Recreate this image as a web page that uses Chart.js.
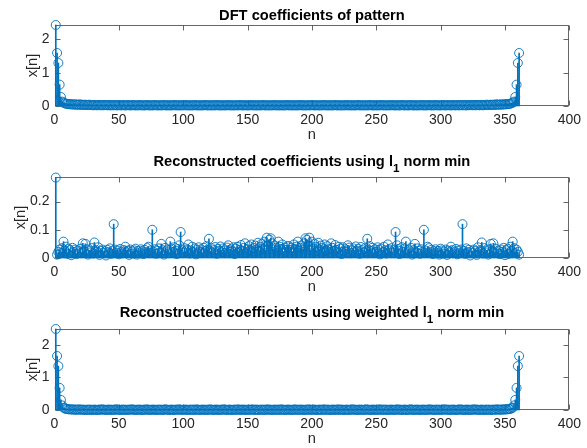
<!DOCTYPE html>
<html>
<head>
<meta charset="utf-8">
<script src="https://cdn.jsdelivr.net/npm/chart.js@4/dist/chart.umd.min.js"></script>
<style>
  html, body { margin: 0; padding: 0; background: #fff; overflow: hidden; width: 587px; height: 448px; }
  .panel { position: absolute; left: 0; width: 587px; height: 152px; }
</style>
</head>
<body>
<div class="panel" style="top:0"><canvas id="chart-dft" width="587" height="152"></canvas></div>
<div class="panel" style="top:152px"><canvas id="chart-l1" width="587" height="152"></canvas></div>
<div class="panel" style="top:304px"><canvas id="chart-wl1" width="587" height="152"></canvas></div>
<script>
// ---- data: magnitudes for n = 1..361 ----
const dftCoeffs = [
  2.43, 1.59, 1.29, 0.64, 0.27, 0.13, 0.10, 0.08, 0.07, 0.06,
  0.06, 0.05, 0.05, 0.05, 0.04, 0.05, 0.04, 0.04, 0.04, 0.05,
  0.03, 0.04, 0.03, 0.04, 0.03, 0.03, 0.04, 0.03, 0.03, 0.02,
  0.03, 0.03, 0.02, 0.03, 0.03, 0.02, 0.03, 0.02, 0.03, 0.03,
  0.02, 0.03, 0.02, 0.02, 0.03, 0.02, 0.03, 0.02, 0.02, 0.03,
  0.02, 0.02, 0.03, 0.02, 0.02, 0.02, 0.03, 0.02, 0.02, 0.02,
  0.03, 0.02, 0.02, 0.02, 0.02, 0.03, 0.02, 0.02, 0.02, 0.02,
  0.02, 0.03, 0.02, 0.02, 0.02, 0.02, 0.02, 0.03, 0.02, 0.02,
  0.02, 0.02, 0.02, 0.02, 0.03, 0.02, 0.02, 0.02, 0.02, 0.02,
  0.02, 0.02, 0.03, 0.02, 0.02, 0.02, 0.02, 0.02, 0.02, 0.02,
  0.03, 0.02, 0.02, 0.02, 0.02, 0.02, 0.02, 0.02, 0.03, 0.02,
  0.02, 0.02, 0.02, 0.02, 0.02, 0.02, 0.03, 0.02, 0.02, 0.02,
  0.02, 0.02, 0.02, 0.02, 0.02, 0.03, 0.02, 0.02, 0.02, 0.02,
  0.02, 0.02, 0.02, 0.02, 0.03, 0.02, 0.02, 0.02, 0.02, 0.02,
  0.02, 0.02, 0.02, 0.03, 0.02, 0.02, 0.02, 0.02, 0.02, 0.02,
  0.02, 0.02, 0.03, 0.02, 0.02, 0.02, 0.02, 0.02, 0.02, 0.02,
  0.02, 0.03, 0.02, 0.02, 0.02, 0.02, 0.02, 0.02, 0.02, 0.02,
  0.03, 0.02, 0.02, 0.02, 0.02, 0.02, 0.02, 0.02, 0.02, 0.02,
  0.03,
  0.02, 0.02, 0.02, 0.02, 0.02, 0.02, 0.02, 0.02, 0.02, 0.03,
  0.02, 0.02, 0.02, 0.02, 0.02, 0.02, 0.02, 0.02, 0.03, 0.02,
  0.02, 0.02, 0.02, 0.02, 0.02, 0.02, 0.02, 0.03, 0.02, 0.02,
  0.02, 0.02, 0.02, 0.02, 0.02, 0.02, 0.03, 0.02, 0.02, 0.02,
  0.02, 0.02, 0.02, 0.02, 0.02, 0.03, 0.02, 0.02, 0.02, 0.02,
  0.02, 0.02, 0.02, 0.02, 0.03, 0.02, 0.02, 0.02, 0.02, 0.02,
  0.02, 0.02, 0.02, 0.03, 0.02, 0.02, 0.02, 0.02, 0.02, 0.02,
  0.02, 0.02, 0.03, 0.02, 0.02, 0.02, 0.02, 0.02, 0.02, 0.02,
  0.03, 0.02, 0.02, 0.02, 0.02, 0.02, 0.02, 0.02, 0.03, 0.02,
  0.02, 0.02, 0.02, 0.02, 0.02, 0.03, 0.02, 0.02, 0.02, 0.02,
  0.02, 0.02, 0.02, 0.03, 0.02, 0.02, 0.02, 0.02, 0.02, 0.03,
  0.02, 0.02, 0.02, 0.02, 0.03, 0.02, 0.02, 0.02, 0.02, 0.02,
  0.03, 0.02, 0.02, 0.02, 0.03, 0.02, 0.02, 0.02, 0.03, 0.02,
  0.02, 0.03, 0.02, 0.02, 0.03, 0.02, 0.03, 0.02, 0.02, 0.03,
  0.02, 0.03, 0.03, 0.02, 0.03, 0.02, 0.03, 0.03, 0.02, 0.03,
  0.03, 0.02, 0.03, 0.03, 0.04, 0.03, 0.03, 0.04, 0.03, 0.04,
  0.03, 0.05, 0.04, 0.04, 0.04, 0.05, 0.04, 0.05, 0.05, 0.05,
  0.06, 0.06, 0.07, 0.08, 0.10, 0.13, 0.27, 0.64, 1.29, 1.59
];

const l1Coeffs = [
  0.285,
  0.012, 0.022, 0.030, 0.018, 0.035, 0.058, 0.025, 0.040, 0.015, 0.032,
  0.028, 0.010, 0.036, 0.022, 0.030, 0.014, 0.026, 0.020, 0.033, 0.018,
  0.052, 0.024, 0.050, 0.031, 0.012, 0.027, 0.020, 0.035, 0.016, 0.055,
  0.028, 0.022, 0.038, 0.011, 0.025, 0.030, 0.018, 0.024, 0.009, 0.029,
  0.021, 0.034, 0.015, 0.026, 0.120, 0.030, 0.019, 0.027, 0.013, 0.032,
  0.022, 0.017, 0.028, 0.040, 0.020, 0.026, 0.011, 0.030, 0.023, 0.016,
  0.027, 0.033, 0.012, 0.025, 0.019, 0.031, 0.024, 0.014, 0.029, 0.021,
  0.035, 0.040, 0.018, 0.027, 0.100, 0.022, 0.031, 0.015, 0.026, 0.034,
  0.020, 0.050, 0.028, 0.012, 0.036, 0.024, 0.030, 0.017, 0.058, 0.033,
  0.021, 0.038, 0.026, 0.014, 0.032, 0.045, 0.092, 0.028, 0.019, 0.035,
  0.024, 0.030, 0.048, 0.016, 0.027, 0.040, 0.021, 0.034, 0.013, 0.029,
  0.038, 0.022, 0.031, 0.018, 0.036, 0.025, 0.042, 0.030, 0.068, 0.024,
  0.035, 0.019, 0.028, 0.039, 0.015, 0.032, 0.026, 0.041, 0.020, 0.034,
  0.027, 0.017, 0.037, 0.045, 0.022, 0.031, 0.025, 0.038, 0.014, 0.033,
  0.040, 0.021, 0.029, 0.046, 0.026, 0.036, 0.052, 0.019, 0.031, 0.042,
  0.027, 0.048, 0.023, 0.035, 0.044, 0.030, 0.054, 0.025, 0.040, 0.050,
  0.033, 0.058, 0.028, 0.072, 0.045, 0.064, 0.070, 0.052, 0.030, 0.044,
  0.036, 0.026, 0.058, 0.040, 0.032, 0.048, 0.022, 0.037, 0.029, 0.042,
  0.042, 0.029, 0.037, 0.022, 0.048, 0.032, 0.040, 0.058, 0.026, 0.036,
  0.044, 0.030, 0.052, 0.070, 0.064, 0.045, 0.072, 0.028, 0.058, 0.033,
  0.050, 0.040, 0.025, 0.054, 0.030, 0.044, 0.035, 0.023, 0.048, 0.027,
  0.042, 0.031, 0.019, 0.052, 0.036, 0.026, 0.046, 0.029, 0.021, 0.040,
  0.033, 0.014, 0.038, 0.025, 0.031, 0.022, 0.045, 0.037, 0.017, 0.027,
  0.034, 0.020, 0.041, 0.026, 0.032, 0.015, 0.039, 0.028, 0.019, 0.035,
  0.024, 0.068, 0.030, 0.042, 0.025, 0.036, 0.018, 0.031, 0.022, 0.038,
  0.029, 0.013, 0.034, 0.021, 0.040, 0.027, 0.016, 0.048, 0.030, 0.024,
  0.035, 0.019, 0.028, 0.092, 0.045, 0.032, 0.014, 0.026, 0.038, 0.021,
  0.033, 0.058, 0.017, 0.030, 0.024, 0.036, 0.012, 0.028, 0.050, 0.020,
  0.034, 0.026, 0.015, 0.031, 0.022, 0.100, 0.027, 0.018, 0.040, 0.035,
  0.021, 0.029, 0.014, 0.024, 0.031, 0.019, 0.025, 0.012, 0.033, 0.027,
  0.016, 0.023, 0.030, 0.011, 0.026, 0.020, 0.040, 0.028, 0.017, 0.022,
  0.032, 0.013, 0.027, 0.019, 0.030, 0.120, 0.026, 0.015, 0.034, 0.021,
  0.029, 0.009, 0.024, 0.018, 0.030, 0.025, 0.011, 0.038, 0.022, 0.028,
  0.055, 0.016, 0.035, 0.020, 0.027, 0.012, 0.031, 0.050, 0.024, 0.052,
  0.018, 0.033, 0.020, 0.026, 0.014, 0.030, 0.022, 0.036, 0.010, 0.028,
  0.032, 0.015, 0.040, 0.025, 0.058, 0.035, 0.018, 0.030, 0.022, 0.012
];

const weightedL1Coeffs = [
  2.49, 1.66, 1.35, 0.68, 0.31, 0.14, 0.07, 0.05, 0.03, 0.03,
  0.02, 0.02, 0.02, 0.01, 0.02, 0.01, 0.01, 0.01, 0.02, 0.01,
  0.01, 0.01, 0.01, 0.00, 0.01, 0.01, 0.01, 0.01, 0.00, 0.01,
  0.01, 0.01, 0.00, 0.01, 0.01, 0.01, 0.02, 0.01, 0.01, 0.00,
  0.01, 0.01, 0.01, 0.01, 0.00, 0.01, 0.01, 0.02, 0.01, 0.01,
  0.00, 0.01, 0.01, 0.01, 0.01, 0.00, 0.01, 0.01, 0.01, 0.02,
  0.01, 0.01, 0.00, 0.01, 0.01, 0.01, 0.01, 0.00, 0.01, 0.01,
  0.01, 0.02, 0.01, 0.00, 0.01, 0.01, 0.01, 0.01, 0.00, 0.01,
  0.01, 0.01, 0.01, 0.00, 0.01, 0.02, 0.01, 0.01, 0.00, 0.01,
  0.01, 0.01, 0.00, 0.01, 0.01, 0.01, 0.02, 0.01, 0.00, 0.01,
  0.01, 0.01, 0.01, 0.00, 0.01, 0.01, 0.01, 0.01, 0.00, 0.02,
  0.01, 0.01, 0.00, 0.01, 0.01, 0.01, 0.01, 0.00, 0.01, 0.01,
  0.02, 0.01, 0.00, 0.01, 0.01, 0.01, 0.01, 0.00, 0.01, 0.01,
  0.01, 0.02, 0.01, 0.00, 0.01, 0.01, 0.01, 0.00, 0.01, 0.01,
  0.01, 0.01, 0.02, 0.00, 0.01, 0.01, 0.01, 0.01, 0.00, 0.01,
  0.01, 0.01, 0.01, 0.02, 0.00, 0.01, 0.01, 0.01, 0.00, 0.01,
  0.01, 0.01, 0.01, 0.00, 0.02, 0.01, 0.01, 0.01, 0.00, 0.01,
  0.01, 0.01, 0.01, 0.01, 0.00, 0.02, 0.01, 0.01, 0.00, 0.01,
  0.01,
  0.01, 0.01, 0.00, 0.01, 0.01, 0.02, 0.00, 0.01, 0.01, 0.01,
  0.01, 0.01, 0.00, 0.01, 0.01, 0.01, 0.02, 0.00, 0.01, 0.01,
  0.01, 0.01, 0.00, 0.01, 0.01, 0.01, 0.00, 0.02, 0.01, 0.01,
  0.01, 0.01, 0.00, 0.01, 0.01, 0.01, 0.01, 0.00, 0.02, 0.01,
  0.01, 0.01, 0.01, 0.00, 0.01, 0.01, 0.01, 0.00, 0.01, 0.02,
  0.01, 0.01, 0.01, 0.00, 0.01, 0.01, 0.01, 0.01, 0.00, 0.01,
  0.02, 0.01, 0.01, 0.00, 0.01, 0.01, 0.01, 0.01, 0.00, 0.01,
  0.01, 0.02, 0.00, 0.01, 0.01, 0.01, 0.01, 0.00, 0.01, 0.01,
  0.01, 0.01, 0.00, 0.01, 0.02, 0.01, 0.01, 0.01, 0.00, 0.01,
  0.01, 0.01, 0.00, 0.01, 0.01, 0.02, 0.01, 0.00, 0.01, 0.01,
  0.01, 0.01, 0.00, 0.01, 0.01, 0.01, 0.01, 0.00, 0.01, 0.02,
  0.01, 0.01, 0.01, 0.00, 0.01, 0.01, 0.01, 0.01, 0.00, 0.01,
  0.01, 0.02, 0.01, 0.01, 0.01, 0.00, 0.01, 0.01, 0.01, 0.01,
  0.00, 0.01, 0.01, 0.02, 0.01, 0.01, 0.00, 0.01, 0.01, 0.01,
  0.01, 0.00, 0.01, 0.01, 0.02, 0.01, 0.01, 0.01, 0.00, 0.01,
  0.01, 0.01, 0.00, 0.01, 0.01, 0.01, 0.01, 0.00, 0.01, 0.01,
  0.01, 0.01, 0.02, 0.01, 0.01, 0.01, 0.02, 0.01, 0.02, 0.02,
  0.02, 0.03, 0.03, 0.05, 0.07, 0.14, 0.31, 0.68, 1.35, 1.66
];

// ---- axis ticks ----
const xTicks = [0, 50, 100, 150, 200, 250, 300, 350, 400];
const yTicksDft = [0, 1, 2];
const yTicksL1 = [0, 0.1, 0.2];
const yTicksWeighted = [0, 1, 2];

// ---- look ----
const BLUE = '#0072BD';
const TEXT = '#262626';
const AXIS_LINE = 'rgba(38, 38, 38, 0.7)';
const FONT = "'Liberation Sans', Arial, Helvetica, sans-serif";
const TICK_LEN = 5;

// Box around the plot area with inward tick marks on all four sides
const axesBox = {
  id: 'axesBox',
  beforeDatasetsDraw(chart) {
    const { ctx, chartArea: a, scales: { x, y } } = chart;
    const L = Math.round(a.left) + 0.5;
    const R = Math.round(a.right) - 0.5;
    const T = Math.round(a.top) + 0.5;
    const B = Math.round(a.bottom) - 0.5;
    ctx.save();
    ctx.strokeStyle = AXIS_LINE;
    ctx.lineWidth = 1;
    ctx.strokeRect(L, T, R - L, B - T);
    ctx.beginPath();
    x.ticks.forEach(t => {
      const px = Math.round(x.getPixelForValue(t.value)) + 0.5;
      ctx.moveTo(px, B); ctx.lineTo(px, B - TICK_LEN);
      ctx.moveTo(px, T); ctx.lineTo(px, T + TICK_LEN);
    });
    y.ticks.forEach(t => {
      const py = Math.round(y.getPixelForValue(t.value)) + 0.5;
      ctx.moveTo(L, py); ctx.lineTo(L + TICK_LEN, py);
      ctx.moveTo(R, py); ctx.lineTo(R - TICK_LEN, py);
    });
    ctx.stroke();
    ctx.restore();
  }
};

// Bold title with optional subscript pieces, centred over the plot area
function makeTitle(parts, baseline) {
  return {
    id: 'stemTitle',
    afterDraw(chart) {
      const { ctx, chartArea } = chart;
      const mainFont = `bold 14.67px ${FONT}`;
      const subFont = `bold 11.7px ${FONT}`;
      ctx.save();
      const widths = parts.map(p => {
        ctx.font = p.sub ? subFont : mainFont;
        return ctx.measureText(p.text).width;
      });
      const total = widths.reduce((s, w) => s + w, 0);
      let x = (chartArea.left + chartArea.right) / 2 - total / 2;
      ctx.fillStyle = '#000';
      ctx.textAlign = 'left';
      ctx.textBaseline = 'alphabetic';
      parts.forEach((p, i) => {
        ctx.font = p.sub ? subFont : mainFont;
        ctx.fillText(p.text, x, baseline + (p.sub ? 6 : 0));
        x += widths[i];
      });
      ctx.restore();
    }
  };
}

function createStemChart(canvasId, values, cfg) {
  const points = values.map((v, i) => ({ x: i + 1, y: v }));
  return new Chart(document.getElementById(canvasId), {
    type: 'bar',
    data: {
      datasets: [
        {
          type: 'scatter',
          data: points,
          pointRadius: 4.5,
          pointHoverRadius: 4.5,
          pointBorderWidth: 0.9,
          pointBorderColor: BLUE,
          pointBackgroundColor: 'rgba(0,0,0,0)',
          clip: false
        },
        {
          type: 'bar',
          data: points,
          backgroundColor: BLUE,
          barThickness: 1,
          borderWidth: 0,
          clip: false
        }
      ]
    },
    options: {
      responsive: false,
      animation: false,
      events: [],
      layout: { padding: { top: 25, right: 11.3, bottom: 0, left: 0 } },
      plugins: {
        legend: { display: false },
        tooltip: { enabled: false },
        title: { display: false }
      },
      scales: {
        x: {
          type: 'linear',
          min: 0,
          max: 400,
          offset: false,
          afterBuildTicks: s => { s.ticks = xTicks.map(v => ({ value: v })); },
          afterFit: s => { s.height = 46; },
          grid: { display: false, drawTicks: false },
          border: { display: false },
          ticks: {
            color: TEXT,
            font: { family: FONT, size: 14 },
            padding: 6,
            maxRotation: 0,
            autoSkip: false,
            callback: v => String(v)
          },
          title: {
            display: true,
            text: 'n',
            color: TEXT,
            font: { family: FONT, size: 14.67 },
            padding: { top: 0, bottom: 8 }
          }
        },
        y: {
          type: 'linear',
          min: 0,
          max: cfg.yMax,
          afterBuildTicks: s => { s.ticks = cfg.yTicks.map(v => ({ value: v })); },
          afterFit: s => { s.width = 54.5; },
          grid: { display: false, drawTicks: false },
          border: { display: false },
          ticks: {
            color: TEXT,
            font: { family: FONT, size: 14 },
            padding: 5,
            callback: v => String(v)
          },
          title: {
            display: true,
            text: 'x[n]',
            color: TEXT,
            font: { family: FONT, size: 14.67 },
            padding: { top: cfg.yTitlePad, bottom: 0 }
          }
        }
      }
    },
    plugins: [axesBox, makeTitle(cfg.title, cfg.titleBaseline)]
  });
}

createStemChart('chart-dft', dftCoeffs, {
  yMax: 2.43,
  yTicks: yTicksDft,
  yTitlePad: 24.2,
  titleBaseline: 19.5,
  title: [{ text: 'DFT coefficients of pattern' }]
});

createStemChart('chart-l1', l1Coeffs, {
  yMax: 0.287,
  yTicks: yTicksL1,
  yTitlePad: 12.2,
  titleBaseline: 13.7,
  title: [
    { text: 'Reconstructed coefficients using l' },
    { text: '1', sub: true },
    { text: ' norm min' }
  ]
});

createStemChart('chart-wl1', weightedL1Coeffs, {
  yMax: 2.49,
  yTicks: yTicksWeighted,
  yTitlePad: 24.2,
  titleBaseline: 13.3,
  title: [
    { text: 'Reconstructed coefficients using weighted l' },
    { text: '1', sub: true },
    { text: ' norm min' }
  ]
});
</script>
</body>
</html>
